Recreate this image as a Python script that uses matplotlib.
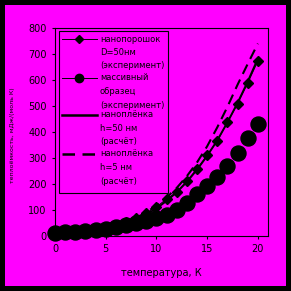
import matplotlib
matplotlib.use("Agg")
import matplotlib.pyplot as plt
from matplotlib.lines import Line2D
from matplotlib.patches import Rectangle

# temperature, K
temps = list(range(0, 21))
# nanopowder D=50 nm (experiment)
powder = [6, 9, 13, 18, 24, 31, 40, 52, 68, 88, 112, 142, 169, 212, 258, 311, 365, 438, 508, 588, 673]
# bulk sample (experiment)
bulk = [13, 14, 16, 19, 23, 28, 34, 41, 49, 58, 68, 82, 100, 128, 160, 192, 228, 270, 320, 376, 430]
# nanofilm h=50 nm (calculation)
film50 = [1, 4, 8, 13, 19, 27, 37, 49, 64, 83, 106, 135, 168, 208, 255, 308, 368, 437, 512, 594, 682]
# nanofilm h=5 nm (calculation)
film5 = [1, 3, 7, 12, 19, 28, 39, 53, 70, 91, 117, 148, 185, 230, 283, 345, 418, 497, 582, 662, 740]

legend_labels = [
    ["нанопорошок", "D=50нм", "(эксперимент)"],
    ["массивный", "образец", "(эксперимент)"],
    ["наноплёнка", "h=50 нм", "(расчёт)"],
    ["наноплёнка", "h=5 нм", "(расчёт)"],
]

W = 291.0
MAG = "#ff00ff"


def px(x, y):
    return x / W, 1 - y / W


fig = plt.figure(figsize=(2.91, 2.91), dpi=100)
fig.patch.set_facecolor("black")
fig.patches.append(Rectangle(px(5, 286), 281 / W, 281 / W, facecolor=MAG,
                             edgecolor="none", transform=fig.transFigure, zorder=-5))

ax = fig.add_axes([55 / W, 55 / W, 213 / W, 208 / W])
ax.set_facecolor("none")

ax.plot(temps, bulk, "o", color="black", ms=10.8, zorder=2, clip_on=False)
ax.plot(temps, film50, "-", color="black", lw=1.4, zorder=3)
ax.plot(temps, powder, "-", color="black", lw=0.7, marker="D", ms=4.6, zorder=4, clip_on=False)
ax.plot(temps, film5, color="black", lw=1.5, ls=(0, (5, 3)), zorder=3)

ax.set_xlim(0, 21)
ax.set_ylim(0, 800)
ax.set_xticks([0, 5, 10, 15, 20])
ax.set_yticks(range(0, 801, 100))
ax.tick_params(direction="out", length=2.5, width=0.8, labelsize=7, pad=3.5, colors="black")
for s in ax.spines.values():
    s.set_color("black")
    s.set_linewidth(0.8)

ax.set_xlabel("температура, К", fontsize=7, labelpad=10)
fig.text(13 / W, 1 - 135 / W, "теплоёмкость, мДж/(моль К)", rotation=90,
         fontsize=4.5, ha="center", va="center")

# legend box drawn by hand to keep the handle on the first text line
x0, y0 = px(59, 193)
fig.patches.append(Rectangle((x0, y0), (168 - 59) / W, (193 - 31) / W, facecolor="none",
                             edgecolor="black", lw=0.8, transform=fig.transFigure, zorder=6))
rows = [39, 78, 115, 154]
styles = [
    dict(ls="-", lw=0.7, marker="D", ms=4.0),
    dict(ls="-", lw=0.7, marker="o", ms=6.0),
    dict(ls="-", lw=1.8),
    dict(ls=(0, (5, 3)), lw=1.8),
]
for y, st, lines in zip(rows, styles, legend_labels):
    xa, ya = px(62, y)
    xb, _ = px(97, y)
    fig.add_artist(Line2D([xa, xb], [ya, ya], color="black", transform=fig.transFigure,
                          zorder=7, ls=st["ls"], lw=st["lw"]))
    if "marker" in st:
        fig.add_artist(Line2D([(xa + xb) / 2], [ya], color="black", marker=st["marker"],
                              ms=st["ms"], ls="none", transform=fig.transFigure, zorder=7))
    for i, t in enumerate(lines):
        fig.text(100 / W, 1 - (y + 13.5 * i) / W, t, fontsize=6.0, ha="left", va="center")

fig.savefig("out.png", dpi=100, facecolor=fig.get_facecolor())
